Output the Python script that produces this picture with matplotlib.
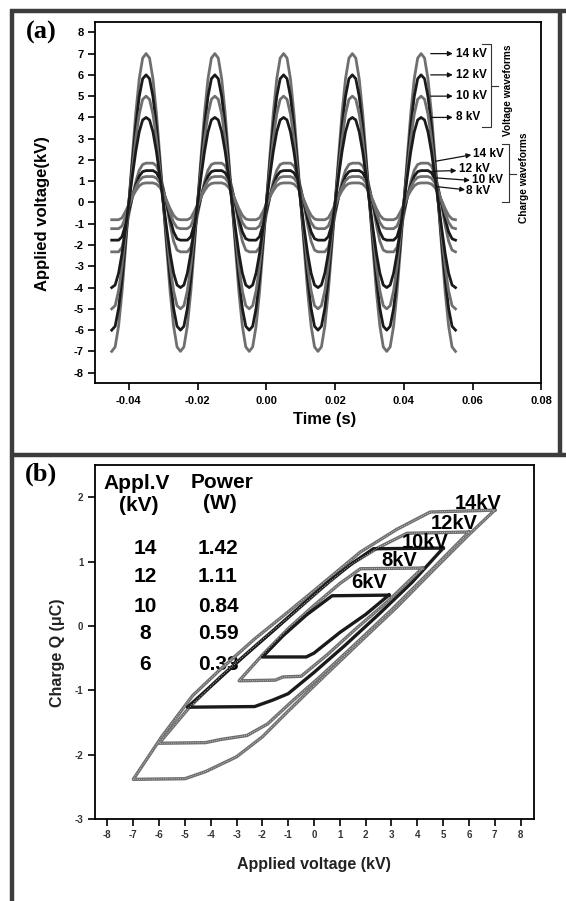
import numpy as np
import matplotlib
matplotlib.use('Agg')
import matplotlib.pyplot as plt
from matplotlib.lines import Line2D
from matplotlib.ticker import FormatStrFormatter

plt.rcParams['font.family'] = ['Liberation Sans', 'DejaVu Sans']
plt.rcParams['font.weight'] = 'bold'
plt.rcParams['axes.unicode_minus'] = False
plt.rcParams['axes.linewidth'] = 1.3

# (a) one 20 ms period of each waveform, every 1 ms,
# starting at a voltage minimum; the record shows 5 periods
t_start = -0.045
t_step = 0.001
n_periods = 5
voltage_shape = [-1.0, -0.97, -0.83, -0.6, -0.31, 0.0, 0.31, 0.6, 0.83, 0.97, 1.0,
                 0.97, 0.83, 0.6, 0.31, 0.0, -0.31, -0.6, -0.83, -0.97, -1.0]
charge_shape = [0.0, 0.0, 0.0, 0.05, 0.22, 0.42, 0.62, 0.79, 0.92, 0.985, 1.0,
                1.0, 1.0, 0.97, 0.88, 0.72, 0.52, 0.3, 0.12, 0.02, 0.0]

wave_labels = ['14 kV', '12 kV', '10 kV', '8 kV']
voltage_peak = [7.0, 6.0, 5.0, 4.0]
charge_max = [1.85, 1.5, 1.22, 0.92]
charge_min = [-2.32, -1.77, -1.23, -0.81]

# (b) Q-V loops, corner to corner: top edge, upper-left edge, bottom edge, lower-right edge
loop_labels = ['14kV', '12kV', '10kV', '8kV', '6kV']
v_14 = [7.0, 4.5, 3.2, 1.8, 0.9, 0.0, -1.0, -2.3, -3.7, -4.7, -5.9, -7.0,
        -5.0, -4.2, -3.0, -2.0, -1.0, 0.0, 1.8, 3.2, 4.6, 6.0, 7.0]
q_14 = [1.8, 1.77, 1.5, 1.15, 0.85, 0.55, 0.22, -0.2, -0.7, -1.08, -1.72, -2.38,
        -2.37, -2.26, -2.03, -1.72, -1.32, -0.93, -0.24, 0.29, 0.86, 1.42, 1.8]
v_12 = [6.0, 3.6, 2.5, 1.4, 0.4, -0.8, -2.2, -3.6, -4.8, -6.0,
        -4.2, -3.6, -2.6, -1.8, -0.8, 0.2, 1.6, 3.0, 4.5, 6.0]
q_12 = [1.46, 1.44, 1.22, 0.95, 0.62, 0.2, -0.28, -0.78, -1.25, -1.82,
        -1.81, -1.76, -1.7, -1.52, -1.15, -0.8, -0.28, 0.25, 0.85, 1.46]
v_10 = [5.0, 2.3, 1.5, 0.6, -0.4, -1.6, -2.8, -3.9, -4.9,
        -2.3, -1.6, -1.0, 0.0, 1.2, 2.5, 3.8, 5.0]
q_10 = [1.21, 1.2, 0.98, 0.7, 0.35, -0.08, -0.5, -0.9, -1.26,
        -1.25, -1.15, -1.05, -0.72, -0.3, 0.18, 0.68, 1.21]
v_8 = [4.2, 1.8, 1.0, 0.0, -1.0, -2.0, -2.9,
       -1.5, -1.2, -0.5, 0.5, 1.6, 2.9, 4.2]
q_8 = [0.9, 0.89, 0.66, 0.32, -0.04, -0.45, -0.85,
       -0.84, -0.79, -0.78, -0.45, -0.05, 0.4, 0.9]
v_6 = [2.9, 0.7, -0.3, -1.2, -2.0, -0.3, 0.0, 1.0, 2.0, 2.9]
q_6 = [0.48, 0.47, 0.17, -0.15, -0.48, -0.48, -0.42, -0.1, 0.18, 0.48]

appl_v = ['14', '12', '10', '8', '6']
power_w = ['1.42', '1.11', '0.84', '0.59', '0.33']

GRAY = '#6f6f6f'
DARK = '#1a1a1a'
FRAME = '#3c3c3c'

fig = plt.figure(figsize=(5.66, 9.01), dpi=100)
ax_a = fig.add_axes([0.167, 0.5746, 0.7896, 0.4013])
ax_b = fig.add_axes([0.167, 0.0907, 0.7756, 0.3932])

# ---------------- panel (a)
n = len(voltage_shape) - 1
t = t_start + t_step * np.arange(n * n_periods + 1)
v_norm = np.array(voltage_shape[:-1] * n_periods + voltage_shape[-1:])
q_norm = np.array(charge_shape[:-1] * n_periods + charge_shape[-1:])

charge_colors = [GRAY, DARK, GRAY, GRAY]
voltage_colors = [GRAY, DARK, GRAY, DARK]
for qmax, qmin, c in zip(charge_max, charge_min, charge_colors):
    ax_a.plot(t, qmin + (qmax - qmin) * q_norm, color=c, lw=2.0)
for amp, c in zip(voltage_peak, voltage_colors):
    ax_a.plot(t, amp * v_norm, color=c, lw=2.0)

arrow_kw = dict(arrowstyle='-|>', color='#111111', lw=0.9, mutation_scale=7,
                shrinkA=0, shrinkB=0)
for lab, y in zip(wave_labels, voltage_peak):
    ax_a.annotate('', xy=(0.0542, y), xytext=(0.0478, y), arrowprops=arrow_kw)
    ax_a.text(0.0551, y, lab, ha='left', va='center', fontsize=8.5)

q_arrow_from = [(0.0492, 1.94), (0.0481, 1.47), (0.0491, 1.16), (0.0493, 0.75)]
q_arrow_to = [(0.0596, 2.24), (0.0553, 1.5), (0.0592, 1.04), (0.0578, 0.6)]
q_text_at = [(0.0602, 2.29), (0.0561, 1.58), (0.0597, 1.08), (0.0582, 0.52)]
for lab, p0, p1, pt in zip(wave_labels, q_arrow_from, q_arrow_to, q_text_at):
    ax_a.annotate('', xy=p1, xytext=p0, arrowprops=arrow_kw)
    ax_a.text(pt[0], pt[1], lab, ha='left', va='center', fontsize=8.5)

# brackets
ax_a.plot([0.0628, 0.0653, 0.0653, 0.0628], [7.45, 7.45, 3.55, 3.55], color='#333333', lw=0.8)
ax_a.plot([0.0653, 0.0675], [5.5, 5.5], color='#333333', lw=0.8)
ax_a.text(0.0703, 5.3, 'Voltage waveforms', rotation=90, ha='center', va='center', fontsize=7.3)
ax_a.plot([0.0685, 0.0706, 0.0706, 0.0685], [2.77, 2.77, 0.0, 0.0], color='#333333', lw=0.8)
ax_a.plot([0.0706, 0.0727], [1.36, 1.36], color='#333333', lw=0.8)
ax_a.text(0.0750, 1.17, 'Charge waveforms', rotation=90, ha='center', va='center', fontsize=7.3)

ax_a.set_xlim(-0.05, 0.08)
ax_a.set_ylim(-8.5, 8.5)
ax_a.set_xticks([-0.04, -0.02, 0.0, 0.02, 0.04, 0.06, 0.08])
ax_a.xaxis.set_major_formatter(FormatStrFormatter('%.2f'))
ax_a.set_yticks(list(range(-8, 9)))
ax_a.tick_params(direction='out', length=5, width=1.2, labelsize=8, pad=2.5)
ax_a.tick_params(axis='x', pad=4)
ax_a.text(0.5155, -0.099, 'Time (s)', transform=ax_a.transAxes, ha='center', va='center', fontsize=12)
ax_a.text(-0.1155, 0.47, 'Applied voltage(kV)', transform=ax_a.transAxes, rotation=90,
          ha='center', va='center', fontsize=12)

# ---------------- panel (b)
loops_v = [v_14, v_12, v_10, v_8, v_6]
loops_q = [q_14, q_12, q_10, q_8, q_6]
loop_colors = [GRAY, GRAY, DARK, GRAY, DARK]
for v, q, c in zip(loops_v, loops_q, loop_colors):
    ax_b.plot(v, q, color=c, lw=2.4, solid_joinstyle='round', zorder=3)
    if c == GRAY:
        # the grey traces have a pale dotted core in the scan
        ax_b.plot(v, q, color='#d4d4d4', lw=0.6, ls=(0, (1, 1.6)), zorder=3.5)

label_at = [(6.34, 1.90), (5.41, 1.59), (4.29, 1.29), (3.31, 1.02), (2.14, 0.67)]
for lab, (x, y) in zip(loop_labels, label_at):
    ax_b.text(x, y, lab, ha='center', va='center', fontsize=14.5, zorder=4)

ax_b.text(-6.85, 2.21, 'Appl.V', ha='center', va='center', fontsize=15, zorder=1)
ax_b.text(-6.78, 1.87, '(kV)', ha='center', va='center', fontsize=15, zorder=1)
ax_b.text(-3.55, 2.23, 'Power', ha='center', va='center', fontsize=15, zorder=1)
ax_b.text(-3.63, 1.90, '(W)', ha='center', va='center', fontsize=15, zorder=1)
row_q = [1.2, 0.77, 0.31, -0.11, -0.6]
for a, p, y in zip(appl_v, power_w, row_q):
    ax_b.text(-6.55, y, a, ha='center', va='center', fontsize=15, zorder=1)
    ax_b.text(-3.72, y, p, ha='center', va='center', fontsize=15, zorder=1)

ax_b.set_xlim(-8.5, 8.5)
ax_b.set_ylim(-3, 2.5)
ax_b.set_xticks(list(range(-8, 9)))
ax_b.set_yticks([-3, -2, -1, 0, 1, 2])
ax_b.tick_params(direction='out', length=5, width=1.2, labelsize=7, pad=3, labelcolor='#333333')
ax_b.text(0.4998, -0.127, 'Applied voltage (kV)', transform=ax_b.transAxes,
          ha='center', va='center', fontsize=11.5, color='#222222')
ax_b.text(-0.0838, 0.469, 'Charge Q (\u03bcC)', transform=ax_b.transAxes, rotation=90,
          ha='center', va='center', fontsize=11.5, color='#222222')

# ---------------- outer frames and panel letters
def frame_line(x0, y0, x1, y1):
    fig.add_artist(Line2D([x0 / 566, x1 / 566], [1 - y0 / 901, 1 - y1 / 901],
                          transform=fig.transFigure, color=FRAME, lw=3.2,
                          solid_capstyle='butt'))

frame_line(10, 11, 566, 11)
frame_line(12, 9, 12, 901)
frame_line(560, 9, 560, 456)
frame_line(10, 455, 566, 455)

fig.text(41.5 / 566, 1 - 32 / 901, '(a)', family='Liberation Serif', fontweight='bold',
         fontsize=19, ha='center', va='center')
fig.text(41.5 / 566, 1 - 474 / 901, '(b)', family='Liberation Serif', fontweight='bold',
         fontsize=19, ha='center', va='center')

fig.savefig('out.png', dpi=100)
